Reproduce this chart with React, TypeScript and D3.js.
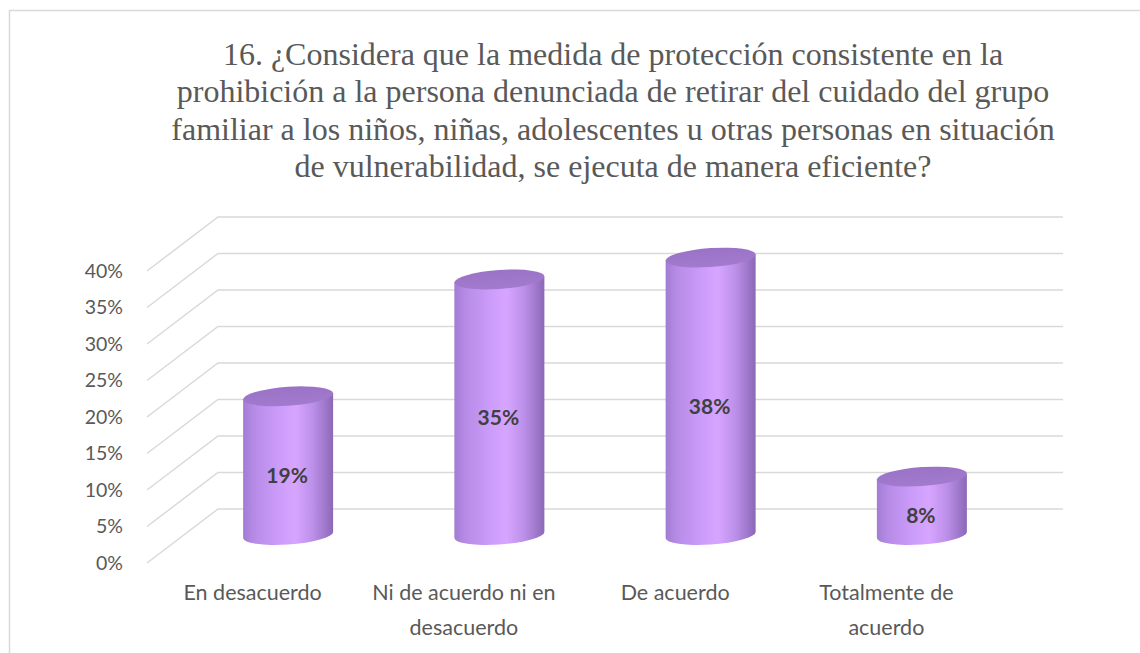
import React from "react";
import * as d3 from "d3";

const titleLines = [
  "16. ¿Considera que la medida de protección consistente en la",
  "prohibición a la persona denunciada de retirar del cuidado del grupo",
  "familiar a los niños, niñas, adolescentes u otras personas en situación",
  "de vulnerabilidad, se ejecuta de manera eficiente?",
];
const categories = ["En desacuerdo", "Ni de acuerdo ni en desacuerdo", "De acuerdo", "Totalmente de acuerdo"];
const categoryLines = [["En desacuerdo"], ["Ni de acuerdo ni en", "desacuerdo"], ["De acuerdo"], ["Totalmente de", "acuerdo"]];
const values = [0.19, 0.35, 0.38, 0.08];
const valueLabels = ["19%", "35%", "38%", "8%"];
const yTicks = [0, 0.05, 0.1, 0.15, 0.2, 0.25, 0.3, 0.35, 0.4];

const W = 1140;
const H = 653;
const DX = 71;
const DY = -54;
const BACK_RIGHT = 1063;

export default function App() {
  const x = d3.scaleBand<string>().domain(categories).range([147, 992]).paddingInner(0).paddingOuter(0);
  const y = d3.scaleLinear().domain([0, 0.4]).range([563, 271]);
  const fmt = d3.format(".0%");
  const rx = 45;
  const ry = 9.5;
  const skew = -3.8;
  const sans = "Lato, 'Open Sans', sans-serif";
  const serif = "'Liberation Serif', Tinos, 'Times New Roman', Times, 'DejaVu Serif', serif";
  const gray = "#595959";

  return (
    <svg width={W} height={H} style={{ position: "absolute", left: 0, top: 0, display: "block", background: "#fff" }}>
      <defs>
        <linearGradient id="cyl" x1="0" x2="1" y1="0" y2="0">
          <stop offset="0%" stopColor="#a27cd4" />
          <stop offset="12%" stopColor="#b68be6" />
          <stop offset="40%" stopColor="#cc9cfb" />
          <stop offset="58%" stopColor="#d7a5ff" />
          <stop offset="78%" stopColor="#bb8fe8" />
          <stop offset="92%" stopColor="#9d76ca" />
          <stop offset="100%" stopColor="#8c68b5" />
        </linearGradient>
        <linearGradient id="cyltop" x1="0" x2="0" y1="0" y2="1">
          <stop offset="0%" stopColor="#9a72c6" />
          <stop offset="100%" stopColor="#a27bcf" />
        </linearGradient>
      </defs>
      {/* frame */}
      <line x1={9} x2={W} y1={10.5} y2={10.5} stroke="#d9d9d9" strokeWidth={1.5} />
      <line x1={9.5} x2={9.5} y1={10} y2={H} stroke="#d9d9d9" strokeWidth={1.5} />
      {/* title */}
      {titleLines.map((t, i) => (
        <text key={i} x={613} y={65 + i * 37.3} textAnchor="middle" style={{ fontFamily: serif }} fontSize={32} fill={gray}>
          {t}
        </text>
      ))}
      {/* gridlines */}
      {yTicks.map((t) => {
        const yf = y(t);
        return (
          <polyline
            key={t}
            points={`${x.range()[0]},${yf} ${x.range()[0] + DX},${yf + DY} ${BACK_RIGHT},${yf + DY}`}
            fill="none"
            stroke="#d9d9d9"
            strokeWidth={1.5}
          />
        );
      })}
      {/* y labels */}
      {yTicks.map((t) => (
        <text key={"l" + t} x={123} y={y(t)} dy="0.35em" textAnchor="end" style={{ fontFamily: sans }} fontSize={19.5} fill={gray}>
          {fmt(t)}
        </text>
      ))}
      {/* cylinders */}
      {categories.map((c, i) => {
        const cx = (x(c) as number) + x.bandwidth() / 2 + DX / 2;
        const yb = y(0) + DY / 2 - 1;
        const yt = y(values[i]) + DY / 2 - 1;
        const side = `M${cx - rx},${yt} L${cx - rx},${yb} A${rx},${ry} 0 0 0 ${cx + rx},${yb} L${cx + rx},${yt} Z`;
        return (
          <g key={c} transform={`translate(${cx},0) skewY(${skew}) translate(${-cx},0)`}>
            <path d={side} fill="url(#cyl)" />
            <ellipse cx={cx} cy={yt} rx={rx} ry={ry} fill="url(#cyltop)" />
          </g>
        );
      })}
      {/* value labels */}
      {categories.map((c, i) => {
        const cx = (x(c) as number) + x.bandwidth() / 2 + DX / 2;
        const yb = y(0) + DY / 2;
        const yt = y(values[i]) + DY / 2;
        return (
          <text key={"v" + c} x={cx - 1} y={(yb + yt) / 2 + 9} dy="0.35em" textAnchor="middle" style={{ fontFamily: sans }} fontWeight={700} fontSize={21} fill="#404040">
            {valueLabels[i]}
          </text>
        );
      })}
      {/* x labels */}
      {categories.map((c, i) => {
        const cx = (x(c) as number) + x.bandwidth() / 2;
        return (
          <text key={"x" + c} x={cx} y={592} textAnchor="middle" style={{ fontFamily: sans }} fontSize={21.5} fill={gray}>
            {categoryLines[i].map((ln, j) => (
              <tspan key={j} x={cx} y={592 + j * 35} dy="0.35em">
                {ln}
              </tspan>
            ))}
          </text>
        );
      })}
    </svg>
  );
}
